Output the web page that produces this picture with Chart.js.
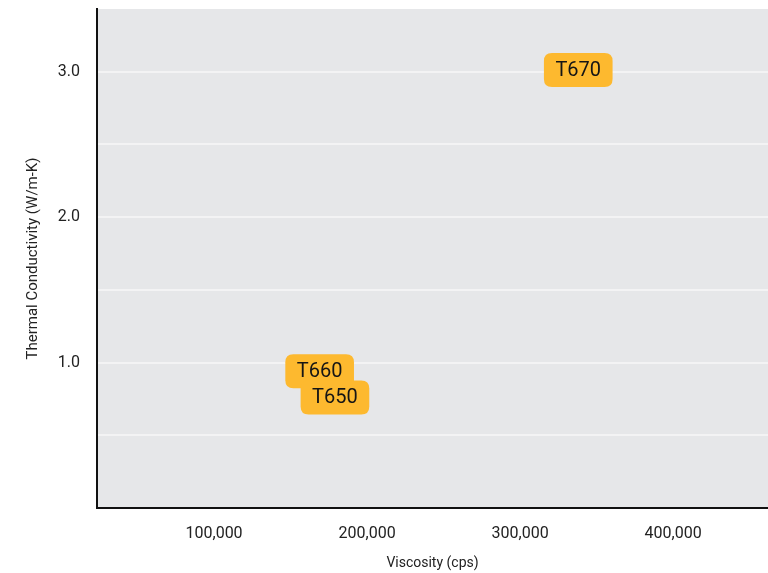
<!DOCTYPE html>
<html>
<head>
<meta charset="utf-8">
<script src="https://cdn.jsdelivr.net/npm/chart.js"></script>
<style>
  html, body { margin: 0; padding: 0; background: #ffffff; }
  #wrap { width: 768px; height: 573px; }
</style>
</head>
<body>
<div id="wrap"><canvas id="chart" width="768" height="573"></canvas></div>
<script>
// Produits et valeurs
const productNames = ['T670', 'T660', 'T650'];
const viscosityValues = [338000, 169000, 179000];   // cps
const conductivityValues = [3.01, 0.94, 0.76];      // W/m-K

// Graduations
const xTickValues = [100000, 200000, 300000, 400000];
const yTickValues = [0, 0.5, 1.0, 1.5, 2.0, 2.5, 3.0];
const yLabelledTicks = [1.0, 2.0, 3.0];

const points = productNames.map((name, i) => ({
    x: viscosityValues[i],
    y: conductivityValues[i],
    name: name
}));

// Fond gris de la zone de tracé
const plotBackground = {
    id: 'plotBackground',
    beforeDraw(chart) {
        const { ctx, chartArea } = chart;
        ctx.save();
        ctx.fillStyle = '#e6e7e9';
        ctx.fillRect(chartArea.left, chartArea.top, chartArea.right - chartArea.left, chartArea.bottom - chartArea.top);
        ctx.restore();
    }
};

function roundRect(ctx, x, y, w, h, r) {
    ctx.beginPath();
    ctx.moveTo(x + r, y);
    ctx.lineTo(x + w - r, y);
    ctx.quadraticCurveTo(x + w, y, x + w, y + r);
    ctx.lineTo(x + w, y + h - r);
    ctx.quadraticCurveTo(x + w, y + h, x + w - r, y + h);
    ctx.lineTo(x + r, y + h);
    ctx.quadraticCurveTo(x, y + h, x, y + h - r);
    ctx.lineTo(x, y + r);
    ctx.quadraticCurveTo(x, y, x + r, y);
    ctx.closePath();
}

// Étiquettes orange sur chaque point
const pointBadges = {
    id: 'pointBadges',
    afterDatasetsDraw(chart) {
        const { ctx } = chart;
        const meta = chart.getDatasetMeta(0);
        ctx.save();
        ctx.font = '20px Roboto';
        ctx.textAlign = 'center';
        ctx.textBaseline = 'middle';
        meta.data.forEach((el, i) => {
            const label = points[i].name;
            const w = ctx.measureText(label).width + 23;
            const h = 34;
            roundRect(ctx, el.x - w / 2, el.y - h / 2, w, h, 8);
            ctx.fillStyle = '#fdb92f';
            ctx.fill();
            ctx.fillStyle = '#151515';
            ctx.fillText(label, el.x, el.y + 1);
        });
        ctx.restore();
    }
};

new Chart(document.getElementById('chart'), {
    type: 'scatter',
    data: {
        datasets: [{
            data: points,
            pointRadius: 0,
            pointHoverRadius: 0,
            backgroundColor: '#fdb92f'
        }]
    },
    options: {
        responsive: false,
        animation: false,
        events: [],
        layout: { padding: { top: 9, right: 0, bottom: 0, left: 0 } },
        plugins: {
            legend: { display: false },
            tooltip: { enabled: false }
        },
        scales: {
            x: {
                type: 'linear',
                min: 23500,
                max: 462000,
                afterBuildTicks(scale) {
                    scale.ticks = xTickValues.map(v => ({ value: v }));
                },
                afterFit(scale) {
                    scale.height = 65;
                    scale.paddingLeft = 0;
                    scale.paddingRight = 0;
                },
                grid: { display: false, drawTicks: false },
                border: { display: true, color: '#111111', width: 2 },
                ticks: {
                    padding: 16,
                    color: '#222222',
                    font: { family: 'Roboto', size: 16 },
                    maxRotation: 0,
                    callback: v => v.toLocaleString('en-US')
                },
                title: {
                    display: true,
                    text: 'Viscosity (cps)',
                    color: '#222222',
                    font: { family: 'Roboto', size: 14 },
                    padding: { top: 0, bottom: 1 }
                }
            },
            y: {
                type: 'linear',
                min: 0,
                max: 3.43,
                afterBuildTicks(scale) {
                    scale.ticks = yTickValues.map(v => ({ value: v }));
                },
                afterFit(scale) {
                    scale.width = 97;
                    scale.paddingTop = 0;
                    scale.paddingBottom = 0;
                },
                grid: { color: '#f3f3f4', lineWidth: 2, drawTicks: false },
                border: { display: true, color: '#111111', width: 2 },
                ticks: {
                    padding: 17,
                    color: '#222222',
                    font: { family: 'Roboto', size: 16 },
                    callback: v => yLabelledTicks.includes(v) ? v.toFixed(1) : ''
                },
                title: {
                    display: true,
                    text: 'Thermal Conductivity (W/m-K)',
                    color: '#222222',
                    font: { family: 'Roboto', size: 15 },
                    padding: { top: 24, bottom: 0 }
                }
            }
        }
    },
    plugins: [plotBackground, pointBadges]
});
</script>
</body>
</html>
